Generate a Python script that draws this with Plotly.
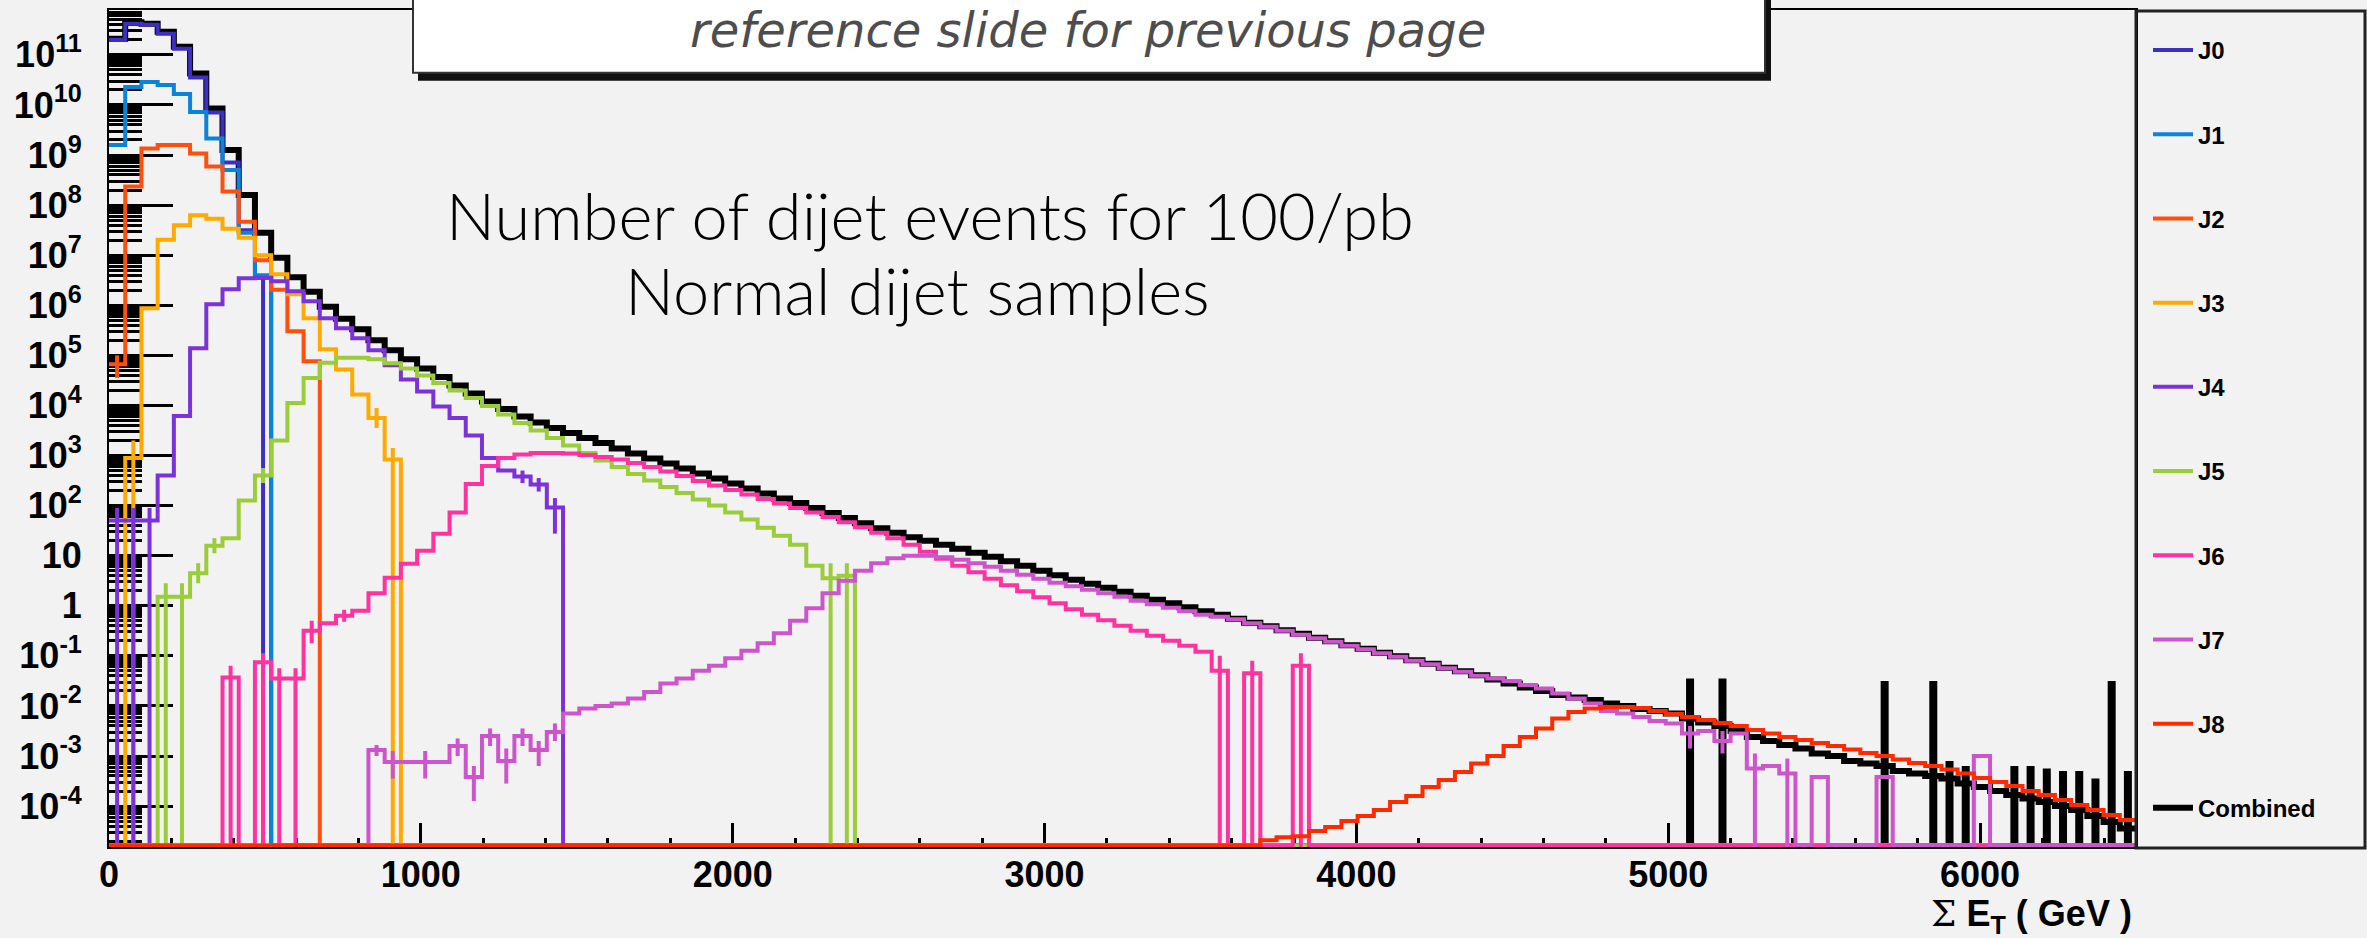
import plotly.graph_objects as go

# ---------------------------------------------------------------------------
# Sum E_T spectra of the dijet samples J0..J8 and their combination,
# 52 GeV bins from 0 to 6500 GeV. Bin contents are stored as log10(events);
# None marks an empty bin. Each list starts at the bin index given by *_FIRST.
# ---------------------------------------------------------------------------
BIN_WIDTH = 52.0
N_BINS = 125

SERIES = ["J0", "J1", "J2", "J3", "J4", "J5", "J6", "J7", "J8", "Combined"]
COLORS = ["#3d2fc4", "#0a84d8", "#ff4f0f", "#ffaa00", "#7b32d9",
          "#9bcc3a", "#ff33a0", "#cc55cc", "#ff2a00", "#000000"]

J0_FIRST = 0
J0_LOG10 = [11.3, 11.62, 11.6, 11.42, 11.12, 10.55, 9.85, 8.85, 7.5, 6.55]

J1_FIRST = 0
J1_LOG10 = [9.2, 10.36, 10.46, 10.4, 10.22, 9.86, 9.33, 8.7, 7.45, 6.6]

J2_FIRST = 0
J2_LOG10 = [4.82, 8.37, 9.13, 9.2, 9.2, 9.03, 8.77, 8.27, 7.67, 6.9, 6.31, 5.48, 4.88]

J3_FIRST = 0
J3_LOG10 = [None, 2.95, 5.94, 7.31, 7.6, 7.8, 7.73, 7.53, 7.35, 7.0, 6.62, 6.22,
            5.74, 5.12, 4.72, 4.22, 3.75, 2.92]

J4_FIRST = 0
J4_LOG10 = [1.7, 1.7, 1.7, 2.6, 3.79, 5.14, 6.02, 6.32, 6.54, 6.55, 6.48, 6.28,
            6.08, 5.74, 5.54, 5.34, 5.1, 4.8, 4.52, 4.28, 3.98, 3.75, 3.4, 2.95,
            2.7, 2.58, 2.42, 1.96]

J5_FIRST = 3
J5_LOG10 = [0.18, 0.18, 0.65, 1.2, 1.35, 2.1, 2.6, 3.3, 4.05, 4.55, 4.85, 4.95,
            4.95, 4.92, 4.84, 4.74, 4.6, 4.45, 4.3, 4.15, 3.99, 3.82, 3.65, 3.5,
            3.35, 3.2, 3.05, 2.9, 2.77, 2.63, 2.5, 2.37, 2.25, 2.12, 2.0, 1.86,
            1.72, 1.56, 1.4, 1.22, 0.8, 0.55, 0.6]

J6_FIRST = 7
J6_LOG10 = [-1.43, None, -1.13, -1.45, -1.45, -0.5, -0.35, -0.2, -0.1, 0.25, 0.56,
            0.84, 1.1, 1.44, 1.86, 2.43, 2.79, 2.95, 3.02, 3.05, 3.05, 3.04, 3.01,
            2.97, 2.92, 2.85, 2.77, 2.68, 2.59, 2.49, 2.4, 2.31, 2.22, 2.13, 2.04,
            1.95, 1.86, 1.77, 1.67, 1.57, 1.46, 1.35, 1.22, 1.08, 0.94, 0.8, 0.67,
            0.54, 0.41, 0.29, 0.17, 0.05, -0.07, -0.18, -0.29, -0.4, -0.5, -0.6,
            -0.7, -0.8, -0.92, -1.3, None, -1.35, None, None, -1.2]

J7_FIRST = 16
J7_LOG10 = [-2.88, -3.12, -3.12, -3.12, -3.12, -2.8, -3.42, -2.6, -3.1, -2.6,
            -2.88, -2.52, -2.15, -2.05, -2.0, -1.95, -1.85, -1.72, -1.55, -1.45,
            -1.3, -1.2, -1.05, -0.9, -0.75, -0.55, -0.3, -0.05, 0.25, 0.5, 0.7,
            0.85, 0.95, 1.0, 1.0, 0.97, 0.92, 0.85, 0.78, 0.7, 0.62, 0.54, 0.46,
            0.39, 0.32, 0.25, 0.18, 0.1, 0.03, -0.04, -0.11, -0.18, -0.22, -0.27,
            -0.35, -0.42, -0.5, -0.58, -0.65, -0.72, -0.8, -0.87, -0.95, -1.02,
            -1.1, -1.17, -1.25, -1.32, -1.4, -1.45, -1.5, -1.58, -1.65, -1.75,
            -1.85, -1.95, -2.1, -2.15, -2.22, -2.3, -2.35, -2.55, -2.5, -2.7,
            -2.55, -3.25, -3.2, -3.35, None, -3.42, None, None, None, -3.42,
            None, None, None, None, None, -3.0]

J8_FIRST = 71
J8_LOG10 = [-4.68, -4.62, -4.6, -4.5, -4.42, -4.3, -4.2, -4.08, -3.92, -3.8,
            -3.62, -3.48, -3.32, -3.15, -3.0, -2.8, -2.62, -2.45, -2.25, -2.12,
            -2.05, -2.02, -2.02, -2.04, -2.1, -2.16, -2.22, -2.28, -2.34, -2.4,
            -2.48, -2.55, -2.62, -2.68, -2.74, -2.8, -2.87, -2.94, -3.0, -3.07,
            -3.14, -3.2, -3.27, -3.35, -3.44, -3.52, -3.6, -3.7, -3.78, -3.88,
            -3.98, -4.08, -4.18, -4.28]

COMBINED_FIRST = 0
COMBINED_LOG10 = [11.32, 11.65, 11.62, 11.46, 11.16, 10.63, 9.93, 9.1, 8.2, 7.45,
                  6.95, 6.56, 6.27, 5.97, 5.73, 5.52, 5.3, 5.1, 4.92, 4.74, 4.57,
                  4.4, 4.24, 4.08, 3.93, 3.78, 3.66, 3.55, 3.45, 3.35, 3.25, 3.14,
                  3.04, 2.94, 2.84, 2.74, 2.64, 2.54, 2.44, 2.34, 2.24, 2.14, 2.05,
                  1.95, 1.85, 1.75, 1.65, 1.55, 1.46, 1.37, 1.3, 1.22, 1.14, 1.06,
                  0.98, 0.89, 0.8, 0.7, 0.61, 0.52, 0.44, 0.36, 0.28, 0.2, 0.12,
                  0.05, -0.03, -0.11, -0.18, -0.26, -0.34, -0.41, -0.49, -0.56,
                  -0.64, -0.71, -0.79, -0.86, -0.94, -1.01, -1.09, -1.16, -1.24,
                  -1.31, -1.39, -1.47, -1.55, -1.63, -1.7, -1.78, -1.83, -1.88,
                  -1.95, -2.0, -2.06, -2.1, -2.15, -2.25, -2.33, -2.4, -2.5, -2.62,
                  -2.7, -2.78, -2.85, -2.95, -3.0, -3.1, -3.15, -3.2, -3.3, -3.35,
                  -3.4, -3.45, -3.55, -3.62, -3.7, -3.78, -3.85, -3.92, -4.0, -4.08,
                  -4.2, -4.32, -4.45]

# Error bars whose lower edge falls below the axis minimum:
# (bin index, log10 of the upper edge)
J0_ERR_TO_FLOOR = [(9, 6.55)]
J3_ERR_TO_FLOOR = [(1, 3.3), (17, 3.15)]
J4_ERR_TO_FLOOR = [(0, 1.95), (1, 1.95), (2, 1.95)]
J5_ERR_TO_FLOOR = [(3, 0.45), (4, 0.45), (44, 0.85), (45, 0.85)]
J6_ERR_TO_FLOOR = [(7, -1.2), (9, -0.95), (10, -1.25), (11, -1.25),
                   (68, -1.0), (70, -1.1), (73, -0.95)]
J7_ERR_TO_FLOOR = [(101, -2.95), (103, -3.05)]
COMBINED_ERR_TO_FLOOR = [(97, -1.45), (99, -1.45), (109, -1.5), (112, -1.5),
                         (113, -3.1), (114, -3.2), (117, -3.2), (118, -3.2),
                         (119, -3.25), (120, -3.3), (121, -3.3), (122, -3.45),
                         (123, -1.5), (124, -3.3)]

# Ordinary error bars: (bin index, log10 lower edge, log10 upper edge)
J2_ERR = [(0, 4.55, 5.0)]
J3_ERR = [(16, 3.55, 3.95)]
J4_ERR = [(25, 2.45, 2.7), (26, 2.28, 2.55), (27, 1.44, 2.15)]
J5_ERR = [(5, 0.45, 0.85), (6, 1.05, 1.35), (9, 2.45, 2.75)]
J6_ERR = [(12, -0.75, -0.3), (14, -0.32, -0.08)]
J7_ERR = [(16, -3.0, -2.78), (17, -3.45, -2.9), (19, -3.45, -2.9), (21, -3.0, -2.65),
          (22, -3.9, -3.2), (23, -2.8, -2.45), (24, -3.55, -2.85), (25, -2.8, -2.45),
          (26, -3.2, -2.7), (27, -2.7, -2.35), (97, -2.85, -2.4), (99, -2.95, -2.5)]

X_TICKS = [0, 1000, 2000, 3000, 4000, 5000, 6000]
Y_TICK_EXPONENTS = list(range(-4, 12))
Y_TICK_TEXT = ["10<sup>-4</sup>", "10<sup>-3</sup>", "10<sup>-2</sup>", "10<sup>-1</sup>",
               "1", "10", "10<sup>2</sup>", "10<sup>3</sup>", "10<sup>4</sup>",
               "10<sup>5</sup>", "10<sup>6</sup>", "10<sup>7</sup>", "10<sup>8</sup>",
               "10<sup>9</sup>", "10<sup>10</sup>", "10<sup>11</sup>"]

# ---------------------------------------------------------------------------
X_RANGE = [0, 6500]
Y_LOG_RANGE = [-4.817, 11.896]
FLOOR_LOG = Y_LOG_RANGE[0] + 0.03      # empty bins are drawn on the frame bottom
BELOW_FRAME_LOG = Y_LOG_RANGE[0] - 1.0

W, H = 2367, 938
ML, MR, MT, MB = 109, 231, 8, 91
PW, PH = W - ML - MR, H - MT - MB


def px_x(px):
    return (px - ML) / PW


def px_y(py):
    return (H - MB - py) / PH


EDGES = [BIN_WIDTH * k for k in range(N_BINS + 1)]


def expand(first, values):
    out = [None] * N_BINS
    for i, v in enumerate(values):
        out[first + i] = v
    return out


def step_trace(name, color, width, first, values, rank):
    bins = expand(first, values)
    ys = [10 ** (v if v is not None else FLOOR_LOG) for v in bins]
    ys.append(ys[-1])
    return go.Scatter(x=EDGES, y=ys, mode="lines", name=name, legendgroup=name,
                      legendrank=rank,
                      line=dict(color=color, width=width, shape="hv"),
                      hoverinfo="x+y+name")


def err_trace(name, color, width, segments):
    """Vertical error segments at bin centres; segments = (bin, lo_log, hi_log)."""
    xs, ys = [], []
    for k, lo, hi in segments:
        c = BIN_WIDTH * (k + 0.5)
        xs += [c, c, None]
        ys += [10 ** lo, 10 ** hi, None]
    return go.Scatter(x=xs, y=ys, mode="lines", legendgroup=name, showlegend=False,
                      line=dict(color=color, width=width), hoverinfo="skip")


data = {
    "J0": (J0_FIRST, J0_LOG10, J0_ERR_TO_FLOOR, []),
    "J1": (J1_FIRST, J1_LOG10, [], []),
    "J2": (J2_FIRST, J2_LOG10, [], J2_ERR),
    "J3": (J3_FIRST, J3_LOG10, J3_ERR_TO_FLOOR, J3_ERR),
    "J4": (J4_FIRST, J4_LOG10, J4_ERR_TO_FLOOR, J4_ERR),
    "J5": (J5_FIRST, J5_LOG10, J5_ERR_TO_FLOOR, J5_ERR),
    "J6": (J6_FIRST, J6_LOG10, J6_ERR_TO_FLOOR, J6_ERR),
    "J7": (J7_FIRST, J7_LOG10, J7_ERR_TO_FLOOR, J7_ERR),
    "J8": (J8_FIRST, J8_LOG10, [], []),
    "Combined": (COMBINED_FIRST, COMBINED_LOG10, COMBINED_ERR_TO_FLOOR, []),
}

fig = go.Figure()

# the combination goes underneath, the slices are stacked on top of it
draw_order = ["Combined"] + SERIES[:-1]
for name in draw_order:
    idx = SERIES.index(name)
    color = COLORS[idx]
    first, values, errs_floor, errs = data[name]
    is_comb = name == "Combined"
    fig.add_trace(step_trace(name, color, 6 if is_comb else 4, first, values, idx + 1))
    segs = [(k, BELOW_FRAME_LOG, top) for k, top in errs_floor] + list(errs)
    if segs:
        fig.add_trace(err_trace(name, color, 8 if is_comb else 4, segs))

tick_font = dict(family="Liberation Sans, Arial, sans-serif", size=36,
                 color="black", weight="bold")

minor_y = [m * 10.0 ** e for e in range(-5, 12) for m in range(2, 10)]

fig.update_layout(
    width=W, height=H,
    margin=dict(l=ML, r=MR, t=MT, b=MB, pad=0),
    paper_bgcolor="#f2f2f2", plot_bgcolor="#f2f2f2",
    showlegend=True,
    legend=dict(x=px_x(2148), y=px_y(26), xanchor="left", yanchor="top",
                bgcolor="rgba(0,0,0,0)", borderwidth=0,
                font=dict(family="Liberation Sans, Arial, sans-serif", size=24,
                          color="black", weight="bold"),
                tracegroupgap=50, itemwidth=40),
    xaxis=dict(range=X_RANGE, tickmode="array", tickvals=X_TICKS,
               ticktext=[str(v) for v in X_TICKS],
               ticks="inside", ticklen=24, tickwidth=3, tickcolor="black",
               minor=dict(dtick=200, tick0=0, ticks="inside", ticklen=9,
                          tickwidth=3, tickcolor="black", showgrid=False),
               showgrid=False, zeroline=False, showline=True, linecolor="black",
               linewidth=2, mirror=True, layer="below traces",
               tickfont=tick_font, ticklabelstandoff=-5),
    yaxis=dict(type="log", range=Y_LOG_RANGE, tickmode="array",
               tickvals=[10.0 ** e for e in Y_TICK_EXPONENTS], ticktext=Y_TICK_TEXT,
               ticks="inside", ticklen=64, tickwidth=3, tickcolor="black",
               minor=dict(tickmode="array", tickvals=minor_y, ticks="inside",
                          ticklen=33, tickwidth=3, tickcolor="black", showgrid=False),
               showgrid=False, zeroline=False, showline=True, linecolor="black",
               linewidth=2, mirror=True, layer="below traces",
               tickfont=tick_font, ticklabelstandoff=18),
)

shapes = [
    # legend frame
    dict(type="rect", xref="paper", yref="paper",
         x0=px_x(2136), x1=px_x(2365), y0=px_y(848), y1=px_y(9),
         line=dict(color="#222222", width=3), fillcolor="rgba(0,0,0,0)", layer="above"),
    # caption card with its drop shadow
    dict(type="rect", xref="paper", yref="paper",
         x0=px_x(418), x1=px_x(1771), y0=px_y(79), y1=px_y(-30),
         line=dict(width=0), fillcolor="#111111", layer="above"),
    dict(type="rect", xref="paper", yref="paper",
         x0=px_x(413), x1=px_x(1765), y0=px_y(71), y1=px_y(-30),
         line=dict(color="#333333", width=2), fillcolor="white", layer="above"),
]

annotations = [
    dict(text="reference slide for previous page", xref="paper", yref="paper",
         x=px_x(1088), y=px_y(28.5), xanchor="center", yanchor="middle",
         showarrow=False,
         font=dict(family="DejaVu Sans", size=48, color="#4d4d4d",
                   style="italic", weight=200)),
    dict(text="Number of dijet events for 100/pb", xref="paper", yref="paper",
         x=px_x(930), y=px_y(213), xanchor="center", yanchor="middle",
         showarrow=False,
         font=dict(family="Lato", size=65, color="black", weight=300)),
    dict(text="Normal dijet samples", xref="paper", yref="paper",
         x=px_x(917), y=px_y(289), xanchor="center", yanchor="middle",
         showarrow=False,
         font=dict(family="Lato", size=65, color="black", weight=300)),
    dict(text="<span style='font-family:DejaVu Serif;font-weight:normal'>\u03a3</span>"
              " E<sub>T</sub> ( GeV )",
         xref="paper", yref="paper", x=px_x(2134), y=px_y(916),
         xanchor="right", yanchor="middle", showarrow=False,
         font=dict(family="Liberation Sans, Arial, sans-serif", size=36,
                   color="black", weight="bold")),
]

fig.update_layout(shapes=shapes, annotations=annotations)

fig.write_html("out.html")
